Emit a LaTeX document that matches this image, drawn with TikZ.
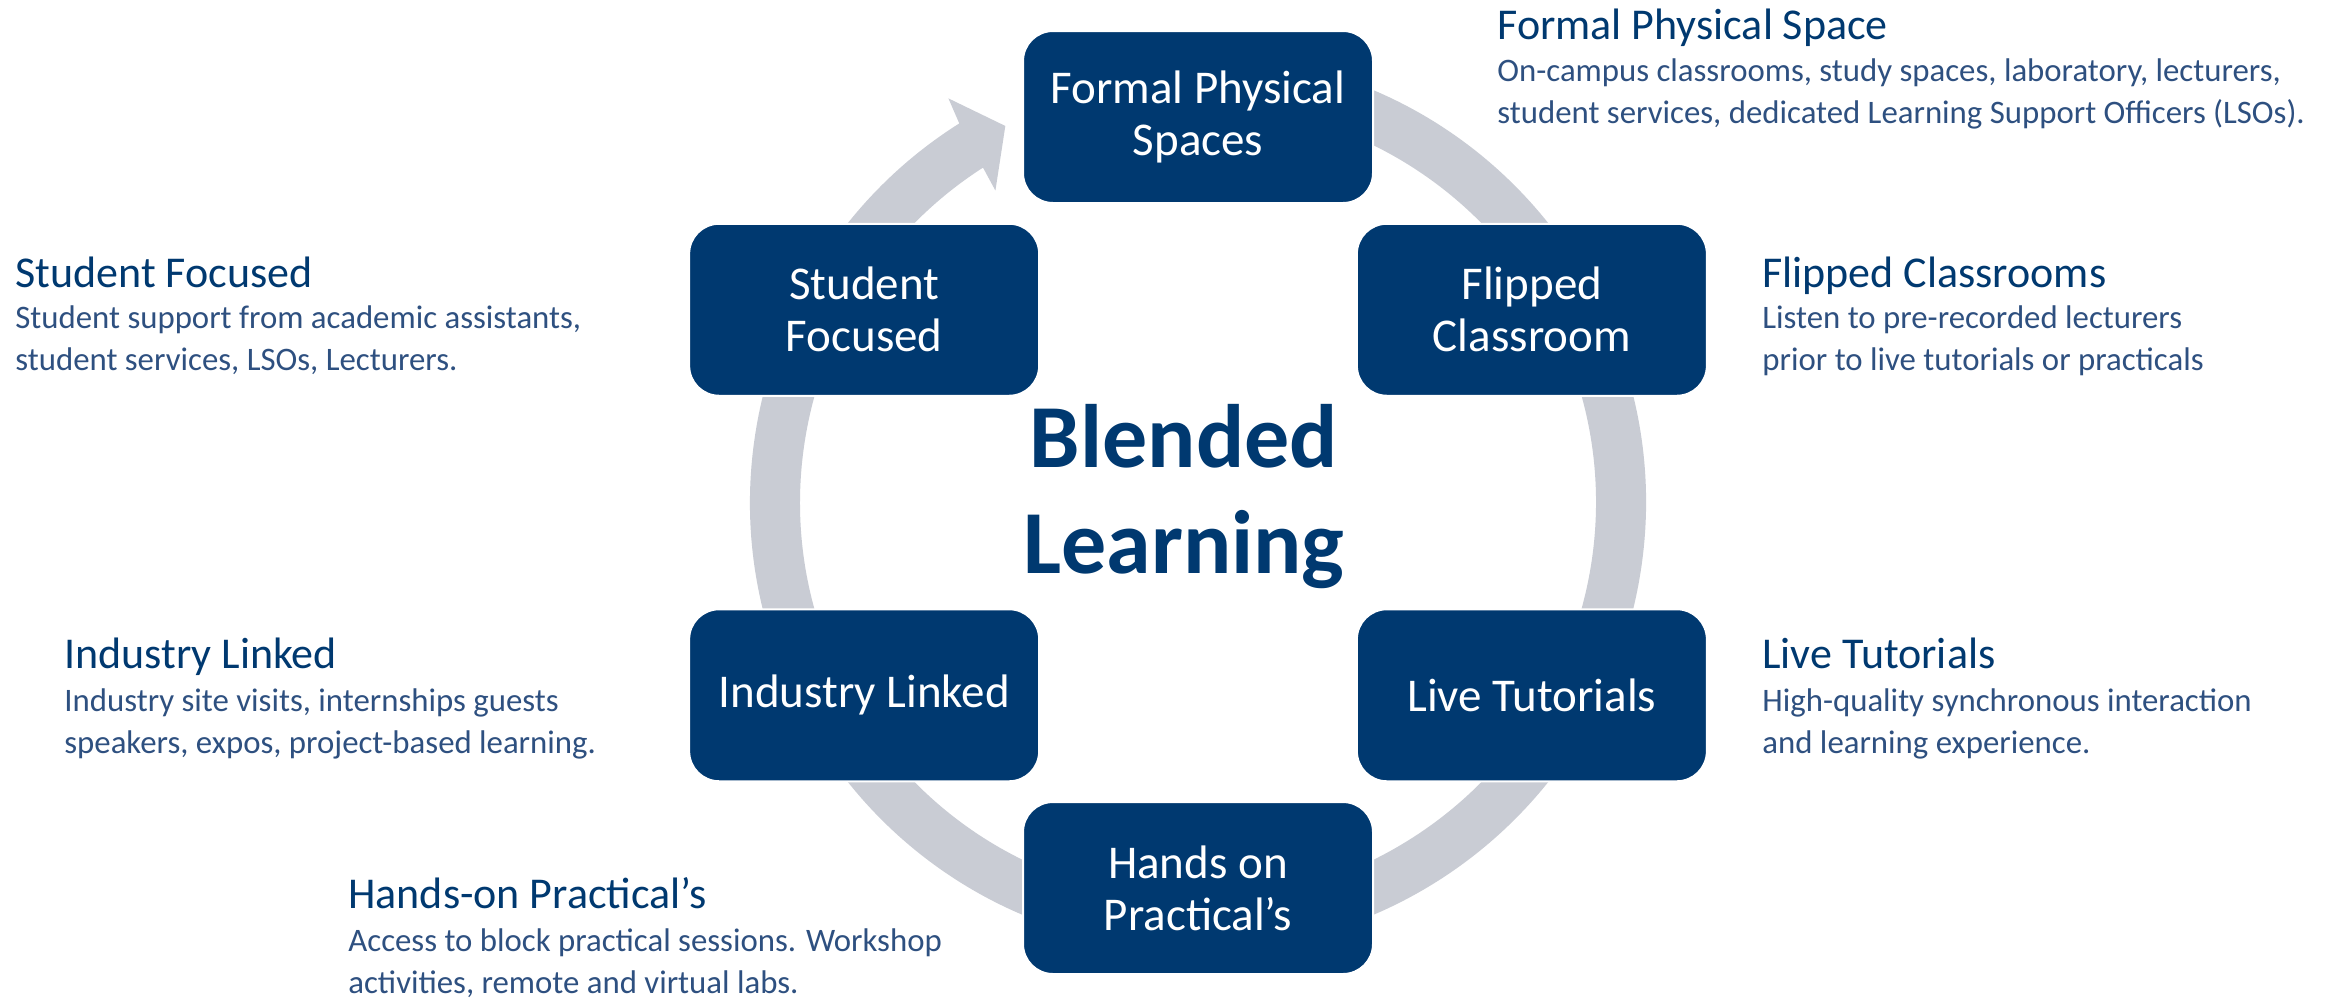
\documentclass[tikz,border=0pt]{standalone}
\usepackage{fontspec}
\setmainfont{Carlito}
\usetikzlibrary{calc}
\definecolor{boxblue}{RGB}{0,57,112}
\definecolor{ringgray}{RGB}{201,204,212}
\definecolor{textblue}{RGB}{46,80,128}
\tikzset{
  stagebox/.style={fill=boxblue, draw=white, line width=1pt, rounded corners=15pt,
    minimum width=175pt, minimum height=86pt, text=white, align=center,
    font=\fontsize{23.5}{26}\selectfont},
  headtext/.style={anchor=base west, text=boxblue, inner sep=0pt, font=\fontsize{22}{26}\selectfont},
  desctext/.style={anchor=base west, text=textblue, inner sep=0pt, align=left,
    font=\fontsize{16.4}{20.75}\selectfont},
}
\begin{document}
\begin{tikzpicture}[x=0.5pt, y=0.5pt]
\useasboundingbox (0,0) rectangle (2348,-998);
\fill[white] (0,0) rectangle (2348,-998);
\coordinate (centre) at (1198,-502.5);
\pgfmathsetmacro\ringout{448}
\pgfmathsetmacro\ringin{398}
\fill[ringgray] ($(centre)+(80:\ringout)$) arc[start angle=80, end angle=-237.8, radius=\ringout]
  -- ($(centre)+(-238.3:475)$) -- ($(centre)+(-242.9:423)$) -- ($(centre)+(-237:372)$)
  -- ($(centre)+(-237.3:\ringin)$) arc[start angle=-237.3, end angle=80, radius=\ringin] -- cycle;
\node[stagebox] (formal) at ($(centre)+(90:385.5)$) {Formal Physical\\Spaces};
\node[stagebox] (flipped) at ($(centre)+(30:385.5)$) {Flipped\\Classroom};
\node[stagebox] (live) at ($(centre)+(-30:385.5)$) {Live Tutorials};
\node[stagebox] (hands) at ($(centre)+(-90:385.5)$) {Hands on\\Practical’s};
\node[stagebox] (industry) at ($(centre)+(-150:385.5)$) {Industry Linked};
\node[stagebox] (student) at ($(centre)+(150:385.5)$) {Student\\Focused};
\node[text=boxblue, align=center, font=\fontsize{45}{53}\selectfont\bfseries] (blended) at (1184,-497) {Blended\\Learning};
\node[headtext] (formalhead) at (1497,-39) {Formal Physical Space};
\node[desctext] (formaldesc) at (1497,-123) {On-campus classrooms, study spaces, laboratory, lecturers,\\student services, dedicated Learning Support Officers (LSOs).};
\node[headtext] (studenthead) at (15,-287) {Student Focused};
\node[desctext] (studentdesc) at (15,-370) {Student support from academic assistants,\\student services, LSOs, Lecturers.};
\node[headtext] (flippedhead) at (1762,-287) {Flipped Classrooms};
\node[desctext] (flippeddesc) at (1762,-370) {Listen to pre-recorded lecturers\\prior to live tutorials or practicals};
\node[headtext] (industryhead) at (64,-668) {Industry Linked};
\node[desctext] (industrydesc) at (64,-753) {Industry site visits, internships guests\\speakers, expos, project-based learning.};
\node[headtext] (livehead) at (1762,-668) {Live Tutorials};
\node[desctext] (livedesc) at (1762,-753) {High-quality synchronous interaction\\and learning experience.};
\node[headtext] (handshead) at (348,-908) {Hands-on Practical’s};
\node[desctext] (handsdesc) at (348,-993) {Access to block practical sessions. Workshop\\activities, remote and virtual labs.};
\end{tikzpicture}
\end{document}
